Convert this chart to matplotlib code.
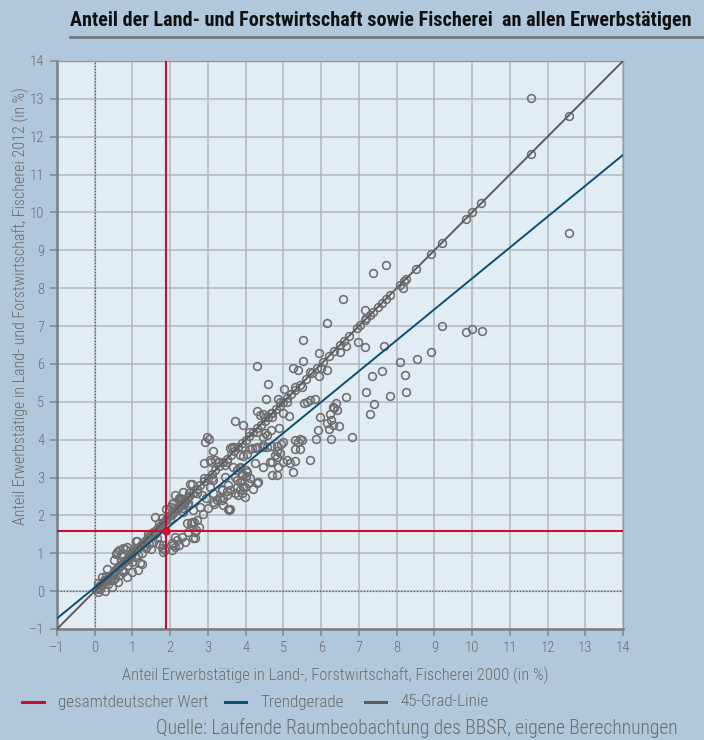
import matplotlib
matplotlib.use("Agg")
import matplotlib.pyplot as plt
from matplotlib.lines import Line2D
import numpy as np

# ---------------- data ----------------
title = "Anteil der Land- und Forstwirtschaft sowie Fischerei  an allen Erwerbstätigen"
xlabel = "Anteil Erwerbstätige in Land-, Forstwirtschaft, Fischerei 2000 (in %)"
ylabel = "Anteil Erwerbstätige in Land- und Forstwirtschaft, Fischerei 2012 (in %)"
source = "Quelle: Laufende Raumbeobachtung des BBSR, eigene Berechnungen"
legend_labels = ["gesamtdeutscher Wert", "Trendgerade", "45-Grad-Linie"]
ticks = list(range(-1, 15))
tick_labels = ["–1"] + [str(t) for t in range(0, 15)]

germany_2000 = 1.9
germany_2012 = 1.6
trend_slope = 0.816
trend_intercept = 0.096

# districts with unchanged share (on the 45-degree line)
diag_values = [0.05, 0.1, 0.15, 0.2, 0.25, 0.3, 0.35, 0.4, 0.45, 0.5, 0.55, 0.6, 0.65,
               0.7, 0.75, 0.8, 0.85, 0.9, 0.95, 1.0, 1.05, 1.1, 1.15, 1.2, 1.25, 1.3,
               1.35, 1.4, 1.45, 1.5, 1.55, 1.6, 1.65, 1.7, 1.75, 1.8, 1.85, 1.9, 1.95,
               2.0, 2.05, 2.1, 2.15, 2.2, 2.25, 2.3, 2.35, 2.4, 2.45, 2.5, 2.6, 2.7, 2.8,
               2.9, 3.0, 3.1, 3.2, 3.3, 3.4, 3.5, 3.6, 3.7, 3.8, 3.9, 4.0, 4.1, 4.2, 4.3,
               4.4, 4.5, 4.6, 4.7, 4.8, 4.9, 5.0, 5.1, 5.2, 5.3, 5.45, 5.6, 5.75, 5.9,
               6.05, 6.2, 6.35, 6.5, 6.6, 6.75, 6.95, 7.02, 7.15, 7.2, 7.3, 7.38, 7.5,
               7.62, 7.71, 7.82, 8.09, 8.2, 8.24, 8.52, 8.91, 9.19, 9.83, 10.0, 10.24,
               11.55, 12.56]

# other districts
x2000 = [11.56, 12.56, 8.17, 7.73, 7.37, 7.15, 9.19, 9.84, 10.00, 10.26, 6.97, 7.15, 7.66,
         8.92, 8.54, 8.08, 8.23, 7.60, 7.35, 7.20, 8.25, 7.82, 7.39, 7.29,
         6.59, 6.16, 5.51, 6.67, 6.49, 5.95, 4.29, 5.51, 5.26, 5.40, 6.16, 5.95, 4.58, 5.01,
         4.54, 4.86, 6.67, 6.81, 5.55, 5.63, 5.70, 5.83, 6.40, 6.31, 6.35, 6.42, 6.23, 5.98,
         6.27, 6.16, 6.31, 6.47, 6.21, 5.93, 6.27, 5.86, 5.70, 4.31, 4.45, 4.67, 4.99, 5.15,
         4.89, 4.66, 4.51, 4.45, 5.30, 5.43, 5.50, 5.39, 5.30, 5.43,
         5.00, 4.93, 4.84, 4.82, 4.78, 4.91, 5.09, 5.31, 4.98, 4.86, 4.71, 4.47, 4.25, 4.12,
         4.25, 4.47,
         3.72, 3.94, 2.98, 3.03, 2.92, 3.13, 2.90, 3.07, 3.27, 3.58, 3.65, 3.85, 3.94, 4.03,
         4.16, 4.29, 4.57, 4.66, 4.64, 4.82, 5.17, 5.26, 4.69, 4.82,
         3.67, 3.78, 3.89, 4.02, 4.11, 3.89, 4.07, 4.29, 4.20, 3.45, 3.54, 3.36, 3.50, 3.76,
         3.90, 3.80, 3.14, 3.23, 3.36, 3.17, 3.39, 3.57, 2.57, 2.35, 2.04, 1.89, 1.60,
         2.22, 2.31, 2.38, 2.48, 2.70, 2.63, 2.44, 2.54, 2.75, 2.69, 2.66, 2.13, 2.19, 2.04,
         2.22, 2.08, 1.82, 1.78, 3.54, 3.14, 3.41, 3.50, 3.85, 3.98, 3.72, 3.76, 3.85, 4.03,
         0.57, 0.65, 0.76, 0.85, 1.10, 1.20,
         4.47, 4.56, 4.38, 3.05, 3.19, 3.45, 2.13, 2.26, 3.14, 3.05, 3.36, 3.58, 3.32, 3.58,
         3.85, 3.94, 4.33, 3.98, 3.76, 3.72, 3.89, 4.02, 3.85, 2.61, 2.79, 2.48, 2.35, 2.88,
         2.52, 2.48, 2.26, 2.08, 2.02, 1.77, 2.57, 2.61, 2.30, 2.39, 2.13, 2.04, 1.86, 1.82,
         2.48, 2.66, 1.11, 0.80, 0.58, 0.70, 0.52, 0.32, 0.18, 0.09, 1.24, 1.15, 0.85, 0.62,
         0.98, 0.71, 0.27, 0.45, 0.09, 0.63, 0.76, 0.49, 0.89, 0.98, 1.07,
         0.30, 0.50, 0.70, 0.90, 1.05, 1.30, 1.40, 1.60, 1.70, 2.00, 2.10, 2.30, 2.50, 2.70,
         2.90, 3.10, 3.30, 3.50, 3.70, 3.90, 4.10, 4.30, 4.50, 4.70, 4.90, 5.10, 5.30, 5.50,
         5.70, 6.00,
         1.35, 1.45, 1.55, 1.50, 1.65, 1.70, 1.25, 1.15, 0.15, 0.20, 0.35, 0.40, 0.55, 0.25,
         2.95, 3.00, 2.85]
y2012 = [13.03, 9.45, 8.01, 8.60, 8.40, 7.43, 7.01, 6.84, 6.92, 6.87, 6.57, 6.44, 6.48,
         6.31, 6.13, 6.05, 5.72, 5.81, 5.68, 5.27, 5.25, 5.15, 4.93, 4.67,
         7.71, 7.09, 6.64, 6.47, 6.32, 6.28, 5.95, 6.08, 5.89, 5.84, 5.85, 5.69, 5.47, 5.35,
         5.07, 5.07, 5.13, 4.08, 4.96, 5.00, 5.05, 5.07, 4.96, 4.87, 4.83, 4.78, 4.68, 4.61,
         4.52, 4.43, 4.39, 4.36, 4.28, 4.26, 4.03, 4.01, 3.46, 4.76, 4.68, 4.70, 4.70, 4.62,
         4.30, 4.26, 4.17, 4.08, 3.99, 4.01, 3.99, 3.95, 3.75, 3.75,
         3.95, 3.89, 3.82, 3.69, 3.60, 3.64, 3.46, 3.44, 3.42, 3.29, 3.42, 3.27, 3.38, 3.75,
         3.77, 3.81,
         4.49, 4.39, 4.06, 4.01, 3.95, 3.71, 3.38, 3.42, 3.40, 3.77, 3.80, 3.59, 3.57, 3.62,
         3.77, 3.81, 3.81, 3.83, 3.42, 3.55, 3.38, 3.15, 3.07, 3.07,
         3.29, 3.20, 3.10, 3.04, 2.98, 2.93, 2.85, 2.86, 2.71, 3.02, 2.80, 2.71, 2.65, 2.76,
         2.58, 2.54, 2.58, 2.41, 2.41, 2.30, 2.27, 2.14, 2.83, 2.62, 2.31, 2.16, 1.96,
         2.45, 2.40, 2.36, 2.27, 1.88, 1.83, 1.79, 1.80, 1.70, 1.61, 1.39, 1.43, 1.35, 1.26,
         1.21, 1.21, 1.04, 1.13, 2.18, 2.36, 2.45, 2.54, 2.89, 2.74, 2.58, 3.20, 3.28, 3.15,
         0.98, 1.08, 1.13, 1.17, 1.32, 0.73,
         3.86, 4.12, 4.65, 3.46, 3.46, 3.33, 2.54, 2.45, 2.93, 2.76, 2.67, 2.67, 2.45, 2.16,
         2.67, 2.76, 2.89, 2.49, 2.93, 3.02, 3.06, 3.20, 3.24, 2.14, 2.23, 2.32, 2.10, 2.05,
         2.83, 2.49, 2.41, 2.32, 2.23, 1.92, 1.83, 1.40, 1.44, 1.31, 1.17, 1.09, 1.09, 1.22,
         1.57, 1.57, 1.33, 1.10, 1.04, 0.95, 0.82, 0.58, 0.38, 0.21, 0.72, 0.56, 0.38, 0.25,
         0.51, 0.56, 0.01, 0.12, -0.01, 0.42, 0.51, 0.29, 0.69, 0.77, 0.91,
         0.40, 0.45, 0.80, 0.85, 1.15, 1.20, 1.50, 1.50, 1.80, 1.90, 2.20, 2.20, 2.60, 2.60,
         3.00, 3.00, 3.40, 3.40, 3.80, 3.80, 4.20, 4.20, 4.60, 4.60, 5.00, 5.00, 5.40, 5.40,
         5.80, 5.90,
         1.15, 1.25, 1.30, 1.10, 1.40, 1.25, 1.00, 0.95, 0.05, 0.15, 0.20, 0.30, 0.35, 0.30,
         2.45, 2.20, 2.55]

# ---------------- style ----------------
fig_bg = "#b1c8dc"
ax_bg = "#e2ecf3"
grid_col = "#b3b8bd"
text_col = "#6b6b6b"
pt_col = "#6e6e6e"
red = "#c8102e"
blue = "#0b4f75"
gray_line = "#5c5c5c"
cond = ["Roboto Condensed", "DejaVu Sans"]
light = 300

W, H = 704, 740
fig = plt.figure(figsize=(W / 100, H / 100), dpi=100, facecolor=fig_bg)

def fx(px):
    return px / W

def fy(py):
    return 1 - py / H

ax = fig.add_axes([fx(57), fy(629), fx(623) - fx(57), fy(61) - fy(629)])
ax.set_facecolor(ax_bg)
ax.set_xlim(-1, 14)
ax.set_ylim(-1, 14)
ax.set_xticks(ticks)
ax.set_yticks(ticks)
ax.set_xticklabels(tick_labels, family=cond, fontsize=10.5, color=text_col, fontweight=light)
ax.set_yticklabels(tick_labels, family=cond, fontsize=10.5, color=text_col, fontweight=light)
ax.tick_params(axis="both", direction="out", length=5, width=1.2, color="#8a8a8a", pad=4)
ax.grid(True, color=grid_col, lw=1.1, zorder=0)
ax.set_axisbelow(True)
for side in ["left", "bottom"]:
    ax.spines[side].set_color("#7d7d7d")
    ax.spines[side].set_linewidth(1.8)
for side in ["top", "right"]:
    ax.spines[side].set_color("#9a9a9a")
    ax.spines[side].set_linewidth(1.0)

# dotted zero lines
ax.axvline(0, color="#555555", lw=0.9, ls=(0, (1, 1.5)), zorder=1)
ax.axhline(0, color="#555555", lw=0.9, ls=(0, (1, 1.5)), zorder=1)

# scatter
ax.plot(diag_values, diag_values, ls="none", marker="o", ms=5.6, mfc="none",
        mec=pt_col, mew=1.15, zorder=3)
ax.plot(x2000, y2012, ls="none", marker="o", ms=5.6, mfc="none",
        mec=pt_col, mew=1.15, zorder=3)

# lines
ax.axline((0, 0), slope=1, color=gray_line, lw=1.4, zorder=4)
ax.axline((0, trend_intercept), slope=trend_slope, color=blue, lw=1.4, zorder=5)
ax.axvline(germany_2000, color=red, lw=1.5, zorder=6)
ax.axhline(germany_2012, color=red, lw=1.5, zorder=6)
ax.plot([germany_2000], [germany_2012], marker="o", ms=5, color=red, zorder=7)

# title and underline
fig.text(fx(70), fy(20), title, fontsize=14.5, fontweight="bold", family=cond,
         color="#111111", ha="left", va="center")
fig.add_artist(Line2D([fx(70), 1.0], [fy(37), fy(37)], color="#6e6e6e", lw=1.8))

# axis labels
fig.text(fx(335), fy(675), xlabel, family=cond, fontsize=11.9, color=text_col,
         ha="center", va="center", fontweight=light)
fig.text(fx(20), fy(306), ylabel, family=cond, fontsize=11.5, color=text_col,
         ha="center", va="center", rotation=90, fontweight=light)

# legend
leg_y = fy(702)
for (x0, x1, tx), col, lab in zip([(22, 44, 58), (225, 246, 260), (365, 386, 400)],
                                   [red, blue, gray_line], legend_labels):
    fig.add_artist(Line2D([fx(x0), fx(x1)], [leg_y, leg_y], color=col, lw=2.2))
    fig.text(fx(tx), leg_y, lab, family=cond, fontsize=12.3, color=text_col,
             ha="left", va="center", fontweight=light)

# source
fig.text(fx(678), fy(728), source, family=cond, fontsize=14.1, color=text_col,
         ha="right", va="center", fontweight=light)

fig.savefig("out.png", dpi=100, facecolor=fig_bg)
